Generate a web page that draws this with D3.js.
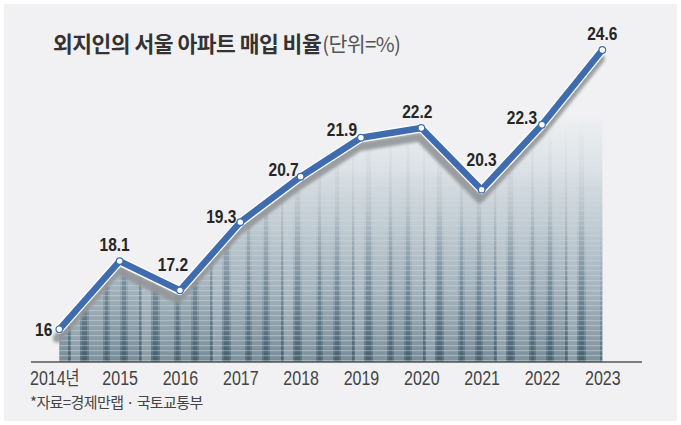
<!DOCTYPE html>
<html>
<head>
<meta charset="utf-8">
<script src="https://cdn.jsdelivr.net/npm/d3@7/dist/d3.min.js"></script>
<style>
  html, body { margin: 0; padding: 0; background: #ffffff; }
  svg { display: block; }
</style>
</head>
<body>
<svg id="chart" width="681" height="425"></svg>
<script>
// ---- data ----
const years = ["2014", "2015", "2016", "2017", "2018", "2019", "2020", "2021", "2022", "2023"];
const ratios = [16, 18.1, 17.2, 19.3, 20.7, 21.9, 22.2, 20.3, 22.3, 24.6];
const tickLabels = ["2014년", "2015", "2016", "2017", "2018", "2019", "2020", "2021", "2022", "2023"];
const valueLabels = ["16", "18.1", "17.2", "19.3", "20.7", "21.9", "22.2", "20.3", "22.3", "24.6"];
const titleMain = "외지인의 서울 아파트 매입 비율";
const titleUnit = "(단위=%)";
const sourceText = "*자료=경제만랩 · 국토교통부";

// ---- layout (not data) ----
const labelOffsets = [
  [-7, 7, "end"], [-5, -10, "middle"], [-7, -19, "middle"], [-19, 1, "middle"], [-17, -1, "middle"],
  [-19, -2, "middle"], [-4, -10, "middle"], [0, -24, "middle"], [-20, -1, "middle"], [0, -10, "middle"]
];

const svg = d3.select("#chart");
const W = 681, H = 425;
const axisY = 362;
const narrow = "'Liberation Sans', Arial, sans-serif";

const x = d3.scalePoint().domain(years).range([59.3, 602.3]);
const y = d3.scaleLinear().domain([16, 24.6]).range([329.3, 50]);

const data = years.map((yr, i) => ({ yr, v: ratios[i], i }));

// background
svg.append("rect").attr("x", 0).attr("y", 0).attr("width", W).attr("height", H).attr("fill", "#ffffff");
svg.append("rect").attr("x", 4).attr("y", 4).attr("width", W - 8).attr("height", H - 8).attr("fill", "#f1f1f3");

const defs = svg.append("defs");

// photo-like gradient
const g1 = defs.append("linearGradient").attr("id", "city").attr("gradientUnits", "userSpaceOnUse")
  .attr("x1", 0).attr("x2", 0).attr("y1", 118).attr("y2", axisY);
[[0, "#eef0f2"], [0.2, "#dce2e6"], [0.45, "#bcc7cf"], [0.7, "#93a5b1"], [1, "#56707f"]].forEach(([o, c]) =>
  g1.append("stop").attr("offset", o).attr("stop-color", c));

// building stripes
const pat = defs.append("pattern").attr("id", "bld").attr("patternUnits", "userSpaceOnUse")
  .attr("width", 71).attr("height", 400);
[[0, 9, "#ffffff", 0.3], [11, 5, "#2b4758", 0.35], [18, 14, "#f4f6f7", 0.25], [34, 3, "#33505f", 0.4],
 [39, 10, "#dfe5e9", 0.25], [51, 4, "#2b4758", 0.35], [57, 11, "#ffffff", 0.2], [68, 2, "#33505f", 0.35]].forEach(([px, w, c, o]) =>
  pat.append("rect").attr("x", px).attr("y", 0).attr("width", w).attr("height", 400).attr("fill", c).attr("opacity", o));
const pat2 = defs.append("pattern").attr("id", "win").attr("patternUnits", "userSpaceOnUse")
  .attr("width", 6).attr("height", 5);
pat2.append("rect").attr("x", 0).attr("y", 0).attr("width", 6).attr("height", 1.2).attr("fill", "#ffffff").attr("opacity", 0.3);

const fadeG = defs.append("linearGradient").attr("id", "fade").attr("gradientUnits", "userSpaceOnUse")
  .attr("x1", 0).attr("x2", 0).attr("y1", 118).attr("y2", axisY);
[[0, 0], [0.35, 0.2], [0.7, 0.8], [1, 1]].forEach(([o, a]) =>
  fadeG.append("stop").attr("offset", o).attr("stop-color", "#fff").attr("stop-opacity", a));
defs.append("mask").attr("id", "fadeMask").attr("maskUnits", "userSpaceOnUse")
  .append("rect").attr("x", 0).attr("y", 0).attr("width", W).attr("height", H).attr("fill", "url(#fade)");

const areaGen = d3.area().x(d => x(d.yr)).y0(axisY).y1(d => y(d.v) + 6);
defs.append("clipPath").attr("id", "under").append("path").attr("d", areaGen(data));

const blur = defs.append("filter").attr("id", "shadowBlur").attr("x", "-10%").attr("y", "-10%").attr("width", "120%").attr("height", "120%");
blur.append("feGaussianBlur").attr("stdDeviation", 1.4);

const photo = svg.append("g").attr("clip-path", "url(#under)");
const px0 = x(years[0]) - 1, px1 = x(years[years.length - 1]) + 1;
photo.append("rect").attr("x", px0).attr("y", 118).attr("width", px1 - px0).attr("height", axisY - 118).attr("fill", "url(#city)");
const tex = photo.append("g").attr("mask", "url(#fadeMask)");
tex.append("rect").attr("x", px0).attr("y", 118).attr("width", px1 - px0).attr("height", axisY - 118).attr("fill", "url(#bld)");
tex.append("rect").attr("x", px0).attr("y", 118).attr("width", px1 - px0).attr("height", axisY - 118).attr("fill", "url(#win)");

// axis
const xAxis = d3.axisBottom(x).tickSize(0).tickFormat((d, i) => tickLabels[i]);
const ax = svg.append("g").attr("transform", `translate(0,${axisY})`).call(xAxis);
ax.select(".domain").remove();
ax.selectAll("text")
  .attr("y", 23).attr("dy", 0)
  .attr("fill", "#444")
  .style("font-family", narrow)
  .style("font-size", "20px")
  .attr("transform", "scale(0.8,1)")
  .each(function (d, i) {
    const t = d3.select(this);
    const lab = tickLabels[i];
    if (lab.endsWith("년")) {
      t.text(null);
      t.append("tspan").text(lab.slice(0, -1));
      t.append("tspan").text("년").style("font-family", "'Noto Sans CJK KR', sans-serif").style("font-size", "19px");
      t.attr("transform", "translate(-5,0) scale(0.8,1)");
    }
  });
svg.append("line").attr("x1", 31).attr("x2", 642).attr("y1", axisY).attr("y2", axisY)
  .attr("stroke", "#555").attr("stroke-width", 1.3);

// line with shadow
const lineGen = d3.line().x(d => x(d.yr)).y(d => y(d.v));
svg.append("path").attr("d", lineGen(data)).attr("fill", "none")
  .attr("stroke", "#939699").attr("stroke-width", 9).attr("stroke-linejoin", "round").attr("stroke-linecap", "round")
  .attr("opacity", 0.9).attr("filter", "url(#shadowBlur)").attr("transform", "translate(-2,9)");
svg.append("path").attr("d", lineGen(data)).attr("fill", "none")
  .attr("stroke", "#ffffff").attr("stroke-width", 9).attr("stroke-linejoin", "round").attr("stroke-linecap", "round");
svg.append("path").attr("d", lineGen(data)).attr("fill", "none")
  .attr("stroke", "#3f6cae").attr("stroke-width", 6.5).attr("stroke-linejoin", "round").attr("stroke-linecap", "round");

svg.append("g").selectAll("circle").data(data).join("circle")
  .attr("cx", d => x(d.yr)).attr("cy", d => y(d.v)).attr("r", 3.3)
  .attr("fill", "#ffffff").attr("stroke", "#3f6cae").attr("stroke-width", 1.2);

// value labels
svg.append("g").selectAll("g").data(data).join("g")
  .attr("transform", d => `translate(${x(d.yr) + labelOffsets[d.i][0]},${y(d.v) + labelOffsets[d.i][1]})`)
  .append("text")
  .attr("transform", "scale(0.84,1)")
  .attr("text-anchor", d => labelOffsets[d.i][2])
  .attr("fill", "#262626")
  .style("font-family", narrow)
  .style("font-weight", "bold")
  .style("font-size", "18.5px")
  .text(d => valueLabels[d.i]);

// title
const title = svg.append("text").attr("x", 53).attr("y", 52)
  .style("font-family", "'Noto Sans CJK KR', sans-serif");
title.append("tspan").text(titleMain).attr("fill", "#333")
  .style("font-weight", "bold").style("font-size", "21.5px").style("letter-spacing", "-0.5px");
title.append("tspan").text(titleUnit).attr("fill", "#555").attr("dx", 1)
  .style("font-weight", "normal").style("font-size", "20.5px").style("letter-spacing", "-0.6px");

// source
svg.append("text").attr("x", 30).attr("y", 408).text(sourceText)
  .attr("fill", "#444")
  .style("font-family", "'Noto Sans CJK KR', sans-serif")
  .style("font-size", "15px").style("letter-spacing", "-0.6px");
</script>
</body>
</html>
